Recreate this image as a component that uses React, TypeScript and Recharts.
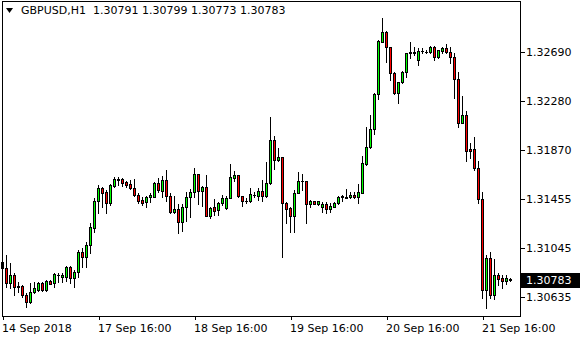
import { ComposedChart, Bar, XAxis, YAxis } from "recharts";

// GBPUSD H1, 14 Sep 16:00 .. 21 Sep 23:00
const OPEN = [
  1.30931, 1.30878, 1.30752, 1.30822, 1.3073, 1.3073, 1.30654, 1.30598, 1.30682, 1.30696,
  1.30752, 1.30696, 1.30772, 1.30752, 1.30822, 1.30803, 1.30808, 1.30892, 1.30794, 1.30845,
  1.31017, 1.30976, 1.31074, 1.31216, 1.31445, 1.31549, 1.31516, 1.31423, 1.31571, 1.31627,
  1.31627, 1.31605, 1.31585, 1.31554, 1.31493, 1.31451, 1.31432, 1.31474, 1.31479, 1.31596,
  1.31529, 1.31619, 1.31485, 1.31348, 1.31376, 1.31269, 1.3139, 1.31474, 1.31516, 1.31667,
  1.31529, 1.31563, 1.31319, 1.3139, 1.31367, 1.31428, 1.31386, 1.3147, 1.31638, 1.31658,
  1.31485, 1.31443, 1.31443, 1.31493, 1.31487, 1.31529, 1.31487, 1.31591, 1.31954, 1.31787,
  1.31809, 1.31428, 1.31381, 1.31317, 1.31512, 1.3161, 1.3161, 1.31418, 1.31443, 1.31418,
  1.3139, 1.31418, 1.31373, 1.31395, 1.31428, 1.31479, 1.31474, 1.31474, 1.31493, 1.31474,
  1.31512, 1.31753, 1.31893, 1.32047, 1.3234, 1.32779, 1.32863, 1.32732, 1.3252, 1.32351,
  1.32438, 1.32527, 1.32687, 1.32687, 1.32625, 1.32703, 1.32695, 1.3269, 1.32737, 1.32648,
  1.32703, 1.32724, 1.32695, 1.32648, 1.32464, 1.321, 1.32164, 1.31879, 1.31879, 1.31717,
  1.31457, 1.30696, 1.30962, 1.30654, 1.30822, 1.30794, 1.30774, 1.30791,
];
const HIGH = [
  1.31057, 1.3099, 1.3092, 1.30839, 1.30766, 1.30738, 1.30671, 1.30755, 1.30766, 1.30766,
  1.30763, 1.3078, 1.3078, 1.30836, 1.30836, 1.30836, 1.30897, 1.30897, 1.30864, 1.31032,
  1.31046, 1.31101, 1.31256, 1.31465, 1.31577, 1.31563, 1.31535, 1.31585, 1.31647, 1.31647,
  1.31633, 1.31613, 1.31619, 1.31627, 1.31507, 1.31479, 1.31485, 1.31507, 1.31605, 1.31633,
  1.31652, 1.31703, 1.3151, 1.31485, 1.31415, 1.31418, 1.31521, 1.31543, 1.31717, 1.31669,
  1.31569, 1.31661, 1.31395, 1.31457, 1.31437, 1.31493, 1.31485, 1.31753, 1.31697, 1.31661,
  1.31487, 1.3147, 1.31549, 1.31521, 1.31549, 1.31619, 1.31772, 1.3215, 1.31988, 1.31885,
  1.31812, 1.31437, 1.3139, 1.31535, 1.31689, 1.31669, 1.31612, 1.31451, 1.31445, 1.31445,
  1.31437, 1.31437, 1.31428, 1.31437, 1.31485, 1.31493, 1.31541, 1.31521, 1.31521, 1.31585,
  1.3182, 1.32061, 1.32164, 1.32351, 1.32793, 1.32975, 1.32871, 1.32735, 1.32525, 1.32443,
  1.32533, 1.32687, 1.32779, 1.32732, 1.32724, 1.32724, 1.32709, 1.32743, 1.32743, 1.32709,
  1.32737, 1.3276, 1.32732, 1.32687, 1.32527, 1.32323, 1.322, 1.31932, 1.31977, 1.31781,
  1.31521, 1.3099, 1.31017, 1.30954, 1.30841, 1.30822, 1.30822, 1.30799,
];
const LOW = [
  1.30847, 1.30724, 1.3071, 1.30654, 1.30682, 1.3064, 1.30556, 1.3059, 1.30674, 1.30688,
  1.30688, 1.30688, 1.30744, 1.30724, 1.30766, 1.30766, 1.30774, 1.30757, 1.30724, 1.30808,
  1.30892, 1.30887, 1.31009, 1.31183, 1.3134, 1.31395, 1.3134, 1.31409, 1.31558, 1.31577,
  1.31569, 1.31563, 1.31541, 1.31485, 1.31423, 1.31409, 1.3139, 1.31437, 1.31474, 1.31521,
  1.31479, 1.31445, 1.3134, 1.3134, 1.31177, 1.31194, 1.31275, 1.31311, 1.31474, 1.31418,
  1.31401, 1.31317, 1.31298, 1.31325, 1.31325, 1.31409, 1.31378, 1.31465, 1.31613, 1.3148,
  1.31403, 1.31428, 1.31437, 1.31474, 1.31451, 1.31443, 1.3148, 1.31585, 1.31709, 1.3178,
  1.30969, 1.31256, 1.31185, 1.31185, 1.31507, 1.31535, 1.31256, 1.31395, 1.31415, 1.31409,
  1.31348, 1.3134, 1.31353, 1.3139, 1.31418, 1.31443, 1.31465, 1.31465, 1.31465, 1.31423,
  1.31507, 1.31745, 1.31885, 1.32005, 1.32296, 1.32775, 1.32611, 1.32458, 1.3234, 1.32262,
  1.32435, 1.32485, 1.3264, 1.32667, 1.32583, 1.32682, 1.32687, 1.32684, 1.32625, 1.32645,
  1.32687, 1.32682, 1.32603, 1.32304, 1.32061, 1.32097, 1.31781, 1.31801, 1.31703, 1.31423,
  1.30627, 1.30543, 1.30627, 1.30618, 1.30738, 1.3071, 1.30747, 1.30773,
];
const CLOSE = [
  1.30878, 1.30752, 1.30822, 1.30724, 1.30721, 1.30654, 1.30598, 1.30682, 1.3071, 1.30757,
  1.30696, 1.30772, 1.30747, 1.30828, 1.30818, 1.30822, 1.30887, 1.30794, 1.30845, 1.31017,
  1.30976, 1.31074, 1.31227, 1.31445, 1.31549, 1.31507, 1.31423, 1.31577, 1.31627, 1.31621,
  1.31596, 1.31577, 1.31549, 1.31493, 1.31445, 1.31428, 1.31474, 1.31493, 1.31596, 1.31535,
  1.31619, 1.31485, 1.31348, 1.31376, 1.31269, 1.3139, 1.31474, 1.31516, 1.31667, 1.31529,
  1.31563, 1.31319, 1.31381, 1.31361, 1.31428, 1.31465, 1.31465, 1.31642, 1.31658, 1.31485,
  1.31443, 1.3144, 1.31499, 1.3149, 1.31529, 1.31487, 1.31591, 1.31954, 1.31787, 1.31809,
  1.31423, 1.31376, 1.31317, 1.31512, 1.3161, 1.31608, 1.31415, 1.31443, 1.3142, 1.31443,
  1.31415, 1.31373, 1.31401, 1.31428, 1.31479, 1.31482, 1.3147, 1.31493, 1.31474, 1.31521,
  1.31759, 1.31893, 1.32047, 1.3234, 1.32785, 1.32863, 1.32732, 1.32519, 1.32351, 1.32438,
  1.32527, 1.32682, 1.3269, 1.3269, 1.32703, 1.32701, 1.32693, 1.32737, 1.32648, 1.32709,
  1.32724, 1.32695, 1.32648, 1.32464, 1.321, 1.32164, 1.31865, 1.31865, 1.31717, 1.31457,
  1.30696, 1.30962, 1.30654, 1.30822, 1.30786, 1.30774, 1.30794, 1.30783,
];

const TICK_IDX = [0, 24, 48, 72, 96, 120];
const TICK_LABELS = ["14 Sep 2018", "17 Sep 16:00", "18 Sep 16:00", "19 Sep 16:00", "20 Sep 16:00", "21 Sep 16:00"];
const PRICE_TICKS = [1.30635, 1.31045, 1.31455, 1.3187, 1.3228, 1.3269];
const LAST_PRICE = 1.30783;
const Y_DOMAIN = [1.304781, 1.331203];

const BULL = "#00ff00";
const BEAR = "#ff0000";
const FONT = "'DejaVu Sans', Verdana, sans-serif";

const data = OPEN.map((o, i) => ({
  i,
  o,
  h: HIGH[i],
  l: LOW[i],
  c: CLOSE[i],
  range: [LOW[i], HIGH[i]],
}));

function Candle(props: any) {
  const { x, y, width, height, payload } = props;
  const { o, h, l, c } = payload;
  const top = Math.min(y, y + height);
  const span = Math.abs(height);
  const py = (v: number) => Math.round(top + ((h - v) / (h - l)) * span);
  const cx = Math.floor(x + width / 2);
  const yH = py(h);
  const yL = py(l);
  const bTop = Math.min(py(o), py(c));
  const bBot = Math.max(py(o), py(c));
  return (
    <g shapeRendering="crispEdges">
      <rect x={cx} y={yH} width={1} height={yL - yH + 1} fill="#000" />
      <rect x={cx - 1} y={bTop} width={3} height={bBot - bTop + 1} fill="#000" />
      {bBot - bTop >= 2 && (
        <rect x={cx} y={bTop + 1} width={1} height={bBot - bTop - 1} fill={c >= o ? BULL : BEAR} />
      )}
    </g>
  );
}

function PriceTick(props: any) {
  const { x, y, payload } = props;
  const last = payload.value === LAST_PRICE;
  return (
    <g>
      {last && <rect x={521} y={Math.round(y) - 7} width={59} height={15} fill="#000" shapeRendering="crispEdges" />}
      <text x={x - 1} y={y} dy="0.36em" fontSize={11} fontFamily={FONT} fill={last ? "#fff" : "#000"}>
        {payload.value.toFixed(5)}
      </text>
    </g>
  );
}

function TimeTick(props: any) {
  const { x, y, payload } = props;
  const k = TICK_IDX.indexOf(payload.value);
  return (
    <text x={x - 1} y={y} dy="0.71em" fontSize={11} fontFamily={FONT} fill="#000">
      {TICK_LABELS[k]}
    </text>
  );
}

export default function App() {
  return (
    <div style={{ position: "fixed", left: 0, top: 0, width: 580, height: 340, background: "#fff" }}>
      <ComposedChart width={580} height={340} data={data} margin={{ top: 1, right: 0, bottom: 0, left: 1 }}>
        <XAxis
          dataKey="i"
          type="category"
          height={24}
          padding={{ left: 0, right: 7 }}
          ticks={TICK_IDX}
          interval={0}
          tickSize={4}
          tickMargin={4}
          axisLine={false}
          tickLine={{ stroke: "#000", shapeRendering: "crispEdges" }}
          tick={<TimeTick />}
        />
        <YAxis
          orientation="right"
          width={60}
          domain={Y_DOMAIN}
          allowDataOverflow
          ticks={[...PRICE_TICKS, LAST_PRICE]}
          interval={0}
          tickSize={5}
          tickMargin={2}
          axisLine={false}
          tickLine={{ stroke: "#000", shapeRendering: "crispEdges" }}
          tick={<PriceTick />}
        />
        <Bar dataKey="range" shape={<Candle />} isAnimationActive={false} />
      </ComposedChart>
      <div
        style={{
          position: "absolute",
          left: 2,
          top: 1,
          width: 519,
          height: 316,
          boxSizing: "border-box",
          border: "1px solid #000",
          pointerEvents: "none",
        }}
      />
      <svg style={{ position: "absolute", left: 0, top: 0 }} width={20} height={20}>
        <polygon points="6,8 13,8 9.5,13" fill="#000" />
      </svg>
      <div
        style={{
          position: "absolute",
          left: 21,
          top: 4,
          fontFamily: FONT,
          fontSize: 11,
          lineHeight: "13px",
          whiteSpace: "pre",
          color: "#000",
        }}
      >
        {"GBPUSD,H1  1.30791 1.30799 1.30773 1.30783"}
      </div>
    </div>
  );
}
